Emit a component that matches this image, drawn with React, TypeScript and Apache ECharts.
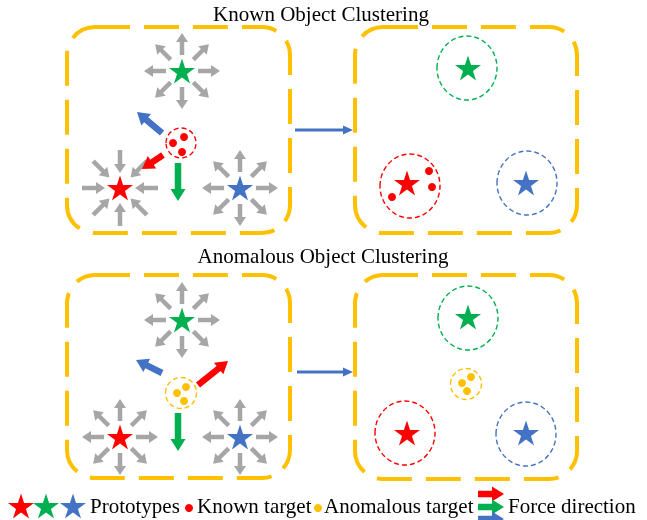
import React, { useEffect, useRef } from "react";
import * as echarts from "echarts";

const W = 647;
const H = 520;

const YELLOW = "#FFC000";
const RED = "#FF0000";
const GREEN = "#00B050";
const BLUE = "#4472C4";
const GRAY = "#A6A6A6";

// Panels [x, y, w, h]
const panels = [
  [67, 27, 223, 206],
  [355, 27, 222, 206],
  [67, 275, 223, 203],
  [355, 275, 222, 204],
];

const titles = ["Known Object Clustering", "Anomalous Object Clustering"];
const titlePos = [[321, 14], [323, 256]];

// Prototypes (stars)
const redStars = [[120, 188], [407, 183], [120, 437], [407, 433], [21, 506]];
const greenStars = [[182, 71], [468, 68], [182, 320], [468, 317], [46, 506]];
const blueStars = [[240, 188], [526, 183], [240, 437], [526, 433], [73, 506]];

// Targets (dots)
const knownDots = [[173, 143], [184, 137], [182, 152], [392, 197], [429, 171], [432, 187], [189, 508]];
const anomDots = [[177, 393], [186, 387], [184, 401], [462, 383], [471, 377], [467, 391], [318, 508]];

// Dashed rings
const redRings = [[410, 186], [405, 433]];
const greenRings = [[467, 68], [468, 318]];
const blueRings = [[527, 183], [526, 434]];
const knownClusterRings = [[181, 143]];
const anomClusterRings = [[181, 393], [466, 384]];

// Gray force bursts around prototypes
const burstOut = [[182, 71], [240, 188], [182, 320], [120, 437], [240, 437]];
const burstIn = [[120, 188]];

// Force arrows [x1, y1, x2, y2]
const redForce = [[163, 155, 142, 169], [198, 385, 228, 361]];
const greenForce = [[178, 163, 178, 201], [178, 413, 178, 451]];
const blueForce = [[162, 133, 137, 112], [162, 373, 136, 360]];
const transitionArrows = [[295, 130, 353, 130], [297, 372, 353, 372]];

// Legend
const legendRedArrow = [[478, 494, 504, 494]];
const legendGreenArrow = [[478, 507, 504, 507]];
const legendBlueArrow = [[478, 519, 504, 519]];
const legendTexts = ["Prototypes", "Known target", "Anomalous target", "Force direction"];
const legendTextX = [90, 197, 324, 508];
const legendY = 506;

const starPath = (() => {
  let d = "";
  for (let i = 0; i < 10; i++) {
    const ang = ((-90 + i * 36) * Math.PI) / 180;
    const r = i % 2 ? 38.2 : 100;
    const x = 100 + r * Math.cos(ang);
    const y = 100 + r * Math.sin(ang);
    d += (i ? "L" : "M") + x.toFixed(2) + " " + y.toFixed(2) + " ";
  }
  return "path://" + d + "Z";
})();

function burst(centers: number[][], inward: boolean, r1: number, r2: number) {
  const out: number[][] = [];
  centers.forEach(([cx, cy]) => {
    for (let k = 0; k < 8; k++) {
      const a = (k * 45 * Math.PI) / 180;
      const ux = Math.cos(a);
      const uy = Math.sin(a);
      const near = [cx + ux * r1, cy + uy * r1];
      const far = [cx + ux * r2, cy + uy * r2];
      out.push(inward ? [far[0], far[1], near[0], near[1]] : [near[0], near[1], far[0], far[1]]);
    }
  });
  return out;
}

function arrowRender(shaft: number, headW: number, head: number) {
  return (params: any, api: any) => {
    const a = api.coord([api.value(0), api.value(1)]);
    const b = api.coord([api.value(2), api.value(3)]);
    const dx = b[0] - a[0];
    const dy = b[1] - a[1];
    const L = Math.hypot(dx, dy) || 1;
    const ux = dx / L;
    const uy = dy / L;
    const nx = -uy;
    const ny = ux;
    const hl = Math.min(head, L * 0.7);
    const bx = b[0] - ux * hl;
    const by = b[1] - uy * hl;
    const w = shaft / 2;
    const hw = headW / 2;
    const points = [
      [a[0] + nx * w, a[1] + ny * w],
      [bx + nx * w, by + ny * w],
      [bx + nx * hw, by + ny * hw],
      [b[0], b[1]],
      [bx - nx * hw, by - ny * hw],
      [bx - nx * w, by - ny * w],
      [a[0] - nx * w, a[1] - ny * w],
    ];
    return { type: "polygon", shape: { points }, style: { fill: api.visual("color") } };
  };
}

function ringRender(rx: number, ry: number, color: string) {
  return (params: any, api: any) => {
    const c = api.coord([api.value(0), api.value(1)]);
    return {
      type: "ellipse",
      shape: { cx: c[0], cy: c[1], rx, ry },
      style: { fill: "none", stroke: color, lineWidth: 1.4, lineDash: [5, 3] },
    };
  };
}

function arrowSeries(data: number[][], color: string, shaft: number, headW: number, head: number) {
  return {
    type: "custom",
    coordinateSystem: "cartesian2d",
    renderItem: arrowRender(shaft, headW, head),
    data,
    itemStyle: { color, opacity: 1 },
    encode: { x: [0, 2], y: [1, 3] },
    silent: true,
    clip: false,
    z: 3,
  };
}

function ringSeries(data: number[][], color: string, rx: number, ry: number) {
  return {
    type: "custom",
    coordinateSystem: "cartesian2d",
    renderItem: ringRender(rx, ry, color),
    data,
    encode: { x: 0, y: 1 },
    silent: true,
    clip: false,
    z: 2,
  };
}

function starSeries(data: number[][], color: string) {
  return {
    type: "scatter",
    data,
    symbol: starPath,
    symbolSize: [26, 25],
    itemStyle: { color, opacity: 1 },
    silent: true,
    z: 4,
  };
}

function dotSeries(data: number[][], color: string) {
  return {
    type: "scatter",
    data,
    symbol: "circle",
    symbolSize: 8,
    itemStyle: { color, opacity: 1 },
    silent: true,
    z: 4,
  };
}

export default function App() {
  const ref = useRef<HTMLDivElement>(null);
  useEffect(() => {
    if (!ref.current) return;
    const chart = echarts.init(ref.current, undefined, { renderer: "svg" });
    const font = '"Liberation Serif", "Times New Roman", serif';
    const graphics: any[] = [];
    panels.forEach(([x, y, w, h]) => {
      graphics.push({
        type: "rect",
        shape: { x, y, width: w, height: h, r: 28 },
        style: { fill: "none", stroke: YELLOW, lineWidth: 4, lineDash: [35, 14] },
        silent: true,
        z: 1,
      });
    });
    titles.forEach((t, i) => {
      graphics.push({
        type: "text",
        x: titlePos[i][0],
        y: titlePos[i][1],
        style: { text: t, fontSize: 21, fontFamily: font, fill: "#000", align: "center", verticalAlign: "middle" },
        silent: true,
      });
    });
    legendTexts.forEach((t, i) => {
      graphics.push({
        type: "text",
        x: legendTextX[i],
        y: legendY,
        style: { text: t, fontSize: 21, fontFamily: font, fill: "#000", align: "left", verticalAlign: "middle" },
        silent: true,
      });
    });

    chart.setOption({
      animation: false,
      grid: { left: 0, right: 0, top: 0, bottom: 0 },
      xAxis: { type: "value", min: 0, max: W, show: false },
      yAxis: { type: "value", min: 0, max: H, inverse: true, show: false },
      graphic: graphics,
      series: [
        arrowSeries(burst(burstOut, false, 16, 38).concat(burst(burstIn, true, 15, 38)), GRAY, 4.5, 12, 9),
        arrowSeries(redForce.concat(legendRedArrow), RED, 6.5, 15, 12),
        arrowSeries(greenForce.concat(legendGreenArrow), GREEN, 6.5, 15, 12),
        arrowSeries(blueForce.concat(legendBlueArrow), BLUE, 6.5, 15, 12),
        arrowSeries(transitionArrows, BLUE, 3, 9, 10),
        ringSeries(redRings, RED, 30, 32),
        ringSeries(greenRings, GREEN, 30, 32),
        ringSeries(blueRings, BLUE, 30, 32),
        ringSeries(knownClusterRings, RED, 15, 15),
        ringSeries(anomClusterRings, YELLOW, 15.5, 15.5),
        starSeries(redStars, RED),
        starSeries(greenStars, GREEN),
        starSeries(blueStars, BLUE),
        dotSeries(knownDots, RED),
        dotSeries(anomDots, YELLOW),
      ],
    });
    return () => chart.dispose();
  }, []);
  return <div ref={ref} style={{ position: "fixed", left: 0, top: 0, width: W, height: H }} />;
}
